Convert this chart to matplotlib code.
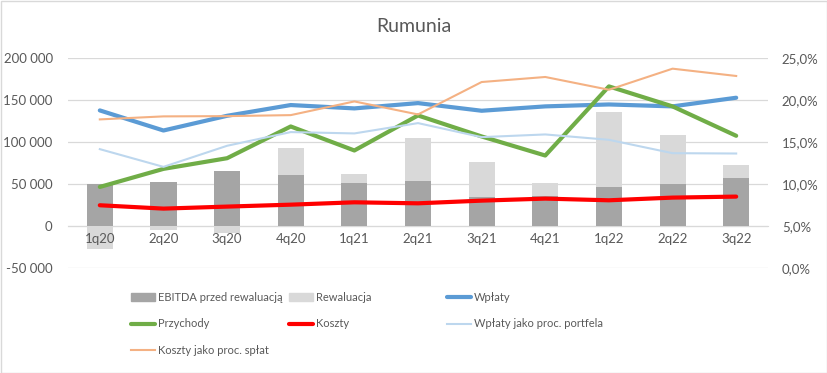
import numpy as np
import matplotlib
matplotlib.use("Agg")
import matplotlib.pyplot as plt
from matplotlib.ticker import FuncFormatter
from matplotlib.patches import Rectangle, Patch
from matplotlib.lines import Line2D

plt.rcParams['font.family'] = ['Lato', 'DejaVu Sans']

categories = ["1q20", "2q20", "3q20", "4q20", "1q21", "2q21", "3q21", "4q21", "1q22", "2q22", "3q22"]
ebitda = [50100, 52900, 66000, 60800, 51300, 53700, 34600, 36200, 46500, 50100, 57700]
rewaluacja = [-27700, -5200, -8700, 31800, 11100, 50500, 42100, 15500, 89100, 57700, 15500]
wplaty = [137600, 113700, 131200, 144000, 140000, 146300, 137200, 142400, 144700, 142400, 152700]
przychody = [46500, 68000, 80700, 118500, 89900, 131600, 106600, 83900, 166200, 142400, 107400]
koszty = [24700, 20700, 23100, 25400, 28200, 27000, 30200, 32600, 30600, 33800, 35000]
wplaty_proc = [14.15, 12.04, 14.55, 16.18, 16.02, 17.25, 15.58, 15.90, 15.26, 13.67, 13.63]
koszty_proc = [17.69, 18.05, 18.08, 18.20, 19.83, 18.28, 22.14, 22.74, 21.22, 23.73, 22.86]

TXT = '#595959'
fig = plt.figure(figsize=(8.27, 3.73), dpi=100)
ax = fig.add_axes([68/827, 1-268/373, 700/827, 210/373])
ax2 = ax.twinx()

x = np.arange(len(categories))
eb = np.array(ebitda, float)
rw = np.array(rewaluacja, float)
bottom_rw = np.where(rw < 0, 0, eb)
ax.bar(x, eb, width=0.41, color='#A5A5A5', zorder=2)
ax.bar(x, rw, width=0.41, bottom=bottom_rw, color='#D9D9D9', zorder=2)
ax.plot(x, wplaty, color='#5B9BD5', lw=3.0, zorder=3, solid_capstyle='round')
ax.plot(x, przychody, color='#70AD47', lw=3.0, zorder=3, solid_capstyle='round')
ax.plot(x, koszty, color='#FF0000', lw=3.0, zorder=3, solid_capstyle='round')
ax2.plot(x, wplaty_proc, color='#BDD7EE', lw=1.5, zorder=3)
ax2.plot(x, koszty_proc, color='#F4B183', lw=1.5, zorder=3)

ax.set_xlim(-0.5, len(categories) - 0.5)
ax.set_ylim(-50000, 200000)
ax.set_yticks(np.arange(-50000, 200001, 50000))
ax.yaxis.set_major_formatter(FuncFormatter(lambda v, p: f"{int(v):,}".replace(',', ' ')))
ax2.set_ylim(0, 25)
ax2.set_yticks(np.arange(0, 25.01, 5))
ax2.yaxis.set_major_formatter(FuncFormatter(lambda v, p: f"{v:.1f}%".replace('.', ',')))

ax.grid(axis='y', color='#D9D9D9', lw=0.9)
ax.set_axisbelow(True)
ax.yaxis.set_zorder(0.5)
ax.xaxis.set_zorder(5)
for a in (ax, ax2):
    for s in a.spines.values():
        s.set_visible(False)
ax.spines['bottom'].set_visible(True)
ax.spines['bottom'].set_position(('data', 0))
ax.spines['bottom'].set_color('#D9D9D9')
ax.spines['bottom'].set_zorder(0.6)
ax.set_xticks(x)
ax.set_xticklabels(categories)
ax.tick_params(axis='x', length=0, pad=5, labelsize=9.5, labelcolor=TXT)
ax.tick_params(axis='y', length=0, pad=11, labelsize=9.5, labelcolor=TXT)
ax2.tick_params(axis='y', length=0, pad=10, labelsize=9.5, labelcolor=TXT)

fig.text(414/827, 1-26/373, "Rumunia", ha='center', va='center', fontsize=14, color=TXT)

# Legend
h_eb = Patch(color='#A5A5A5')
h_rw = Patch(color='#D9D9D9')
h_wp = Line2D([], [], color='#5B9BD5', lw=3, solid_capstyle='round')
h_pr = Line2D([], [], color='#70AD47', lw=3, solid_capstyle='round')
h_ko = Line2D([], [], color='#FF0000', lw=3, solid_capstyle='round')
h_wpp = Line2D([], [], color='#BDD7EE', lw=1.5)
h_kop = Line2D([], [], color='#F4B183', lw=1.5)
cols = [
    ([h_eb, h_pr, h_kop], ["EBITDA przed rewaluacją", "Przychody", "Koszty jako proc. spłat"], 131),
    ([h_rw, h_ko], ["Rewaluacja", "Koszty"], 289),
    ([h_wp, h_wpp], ["Wpłaty", "Wpłaty jako proc. portfela"], 447),
]
for hs, ls, xp in cols:
    leg = fig.legend(hs, ls, loc='upper left', bbox_to_anchor=(xp/827, 1-292/373),
                     frameon=False, fontsize=8, labelcolor=TXT, handlelength=2.15,
                     handleheight=0.65, handletextpad=0.3, labelspacing=1.38,
                     borderpad=0, borderaxespad=0)

fig.patches.append(Rectangle((0.5/827, 0.5/373), 1-1/827, 1-1/373, transform=fig.transFigure,
                             fill=False, edgecolor='#D9D9D9', lw=1))
fig.savefig("out.png", dpi=100)
